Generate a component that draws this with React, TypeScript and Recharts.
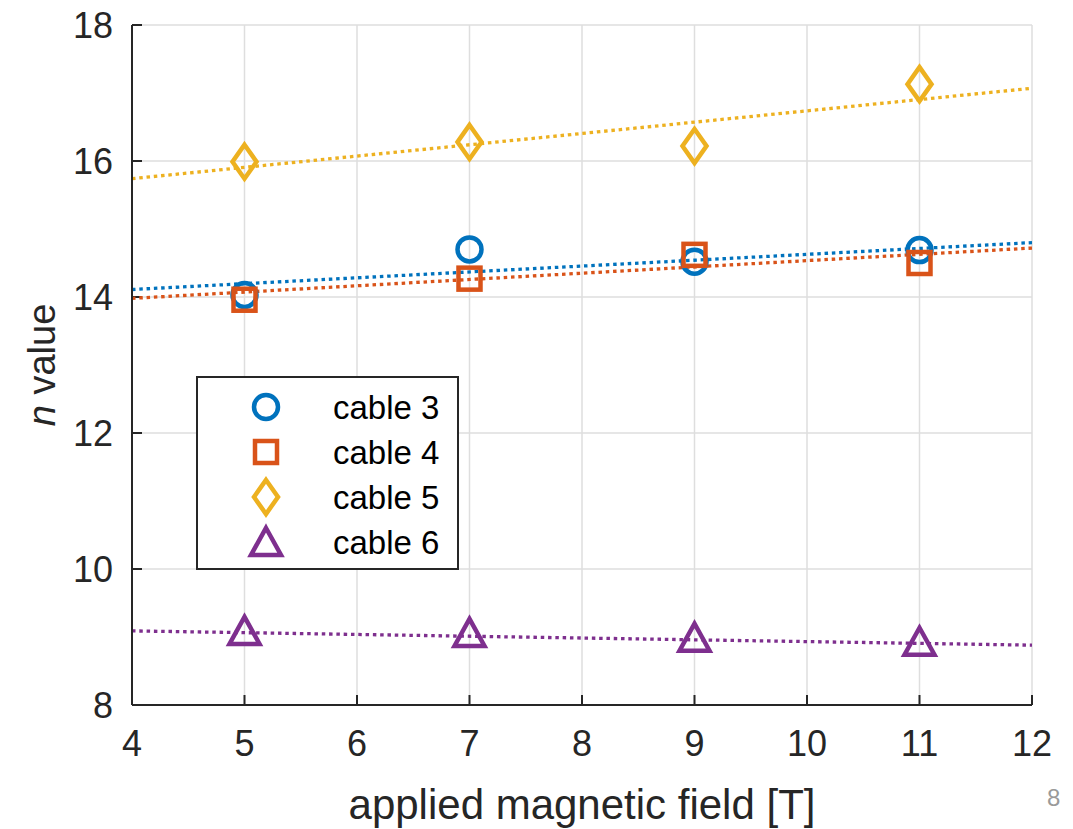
import {
  ComposedChart,
  Line,
  Scatter,
  XAxis,
  YAxis,
  CartesianGrid,
  ReferenceLine,
} from "recharts";

const fields = [5, 7, 9, 11];

const cable3 = [14.03, 14.7, 14.52, 14.69];
const cable4 = [13.96, 14.27, 14.62, 14.5];
const cable5 = [15.99, 16.28, 16.22, 17.13];
const cable6 = [9.09, 9.06, 8.99, 8.93];

// fitted trend lines, value at B = 4 T and B = 12 T
const fitEnds = [4, 12];
const fit3 = [14.11, 14.8];
const fit4 = [13.98, 14.72];
const fit5 = [15.74, 17.07];
const fit6 = [9.09, 8.88];

const xTicks = [4, 5, 6, 7, 8, 9, 10, 11, 12];
const yTicks = [8, 10, 12, 14, 16, 18];

const FONT = "'Liberation Sans', Arial, Helvetica, sans-serif";
const INK = "#262626";

const toPoints = (xs: number[], ys: number[]) => xs.map((x, i) => ({ x, y: ys[i] }));

const circle = (color: string) => (p: any) => (
  <circle cx={p.cx} cy={p.cy} r={12} fill="none" stroke={color} strokeWidth={4.5} />
);
const square = (color: string) => (p: any) => (
  <rect x={p.cx - 11} y={p.cy - 11} width={22} height={22} fill="none" stroke={color} strokeWidth={4.5} />
);
const diamond = (color: string) => (p: any) => (
  <polygon
    points={`${p.cx},${p.cy - 17} ${p.cx + 12},${p.cy} ${p.cx},${p.cy + 17} ${p.cx - 12},${p.cy}`}
    fill="none"
    stroke={color}
    strokeWidth={4.5}
    strokeLinejoin="miter"
  />
);
const triangle = (color: string) => (p: any) => (
  <polygon
    points={`${p.cx},${p.cy - 14} ${p.cx + 15},${p.cy + 13} ${p.cx - 15},${p.cy + 13}`}
    fill="none"
    stroke={color}
    strokeWidth={4.5}
    strokeLinejoin="miter"
  />
);

const series = [
  { name: "cable 3", color: "#0072BD", values: cable3, fit: fit3, marker: circle },
  { name: "cable 4", color: "#D95319", values: cable4, fit: fit4, marker: square },
  { name: "cable 5", color: "#EDB120", values: cable5, fit: fit5, marker: diamond },
  { name: "cable 6", color: "#7E2F8E", values: cable6, fit: fit6, marker: triangle },
];

const LegendBox = () => (
  <svg width={263} height={194} style={{ display: "block" }}>
    <rect x={1} y={1} width={261} height={192} fill="#fff" stroke={INK} strokeWidth={2} />
    {series.map((s, i) => {
      const cy = 31 + i * 45;
      return (
        <g key={s.name}>
          {s.marker(s.color)({ cx: 70, cy })}
          <text x={137} y={cy} dy="0.36em" fontFamily={FONT} fontSize={33} fill="#000">
            {s.name}
          </text>
        </g>
      );
    })}
  </svg>
);

const YTitle = (props: any) => {
  const vb = props.viewBox || { x: 0, y: 25, height: 680 };
  const cy = vb.y + vb.height / 2;
  return (
    <text
      x={55}
      y={cy}
      transform={`rotate(-90 55 ${cy})`}
      textAnchor="middle"
      fontFamily={FONT}
      fontSize={38}
      fill={INK}
    >
      <tspan fontStyle="italic">n</tspan>
      <tspan> value</tspan>
    </text>
  );
};

export default function App() {
  return (
    <div style={{ position: "absolute", left: 0, top: 0, width: 1073, height: 829, background: "#fff" }}>
      <ComposedChart
        width={1073}
        height={829}
        margin={{ top: 25, right: 41, bottom: 0, left: 0 }}
      >
        <CartesianGrid stroke="#dedede" strokeWidth={1.5} />
        <XAxis
          dataKey="x"
          type="number"
          domain={[4, 12]}
          ticks={xTicks}
          allowDataOverflow
          height={124}
          tickSize={0}
          tickMargin={25}
          axisLine={{ stroke: INK, strokeWidth: 2 }}
          tick={{ fill: INK, fontSize: 36, fontFamily: FONT }}
          label={{
            value: "applied magnetic field [T]",
            position: "insideBottom",
            offset: 10,
            fill: INK,
            fontSize: 42,
            fontFamily: FONT,
          }}
        />
        <YAxis
          type="number"
          domain={[8, 18]}
          ticks={yTicks}
          allowDataOverflow
          width={132}
          tickSize={0}
          tickMargin={19}
          axisLine={{ stroke: INK, strokeWidth: 2 }}
          tick={{ fill: INK, fontSize: 36, fontFamily: FONT }}
          label={<YTitle />}
        />
        {xTicks.map((t) => (
          <ReferenceLine
            key={`xt${t}`}
            ifOverflow="visible"
            segment={[{ x: t, y: 8 }, { x: t, y: 8 + 10 / 68 }]}
            stroke={INK}
            strokeWidth={2}
          />
        ))}
        {yTicks.map((t) => (
          <ReferenceLine
            key={`yt${t}`}
            ifOverflow="visible"
            segment={[{ x: 4, y: t }, { x: 4 + 10 / 112.75, y: t }]}
            stroke={INK}
            strokeWidth={2}
          />
        ))}
        {series.map((s) => (
          <Line
            key={`fit-${s.name}`}
            data={toPoints(fitEnds, s.fit)}
            dataKey="y"
            type="linear"
            stroke={s.color}
            strokeWidth={3.3}
            strokeDasharray="3.5 3.8"
            dot={false}
            activeDot={false}
            legendType="none"
            isAnimationActive={false}
          />
        ))}
        {series.map((s) => (
          <Scatter
            key={s.name}
            name={s.name}
            data={toPoints(fields, s.values)}
            dataKey="y"
            shape={s.marker(s.color)}
            isAnimationActive={false}
          />
        ))}
      </ComposedChart>
      <div style={{ position: "absolute", left: 196, top: 376 }}>
        <LegendBox />
      </div>
      <div
        style={{
          position: "absolute",
          left: 1047,
          top: 784,
          fontFamily: FONT,
          fontSize: 24,
          color: "#9a9a9a",
        }}
      >
        8
      </div>
    </div>
  );
}
